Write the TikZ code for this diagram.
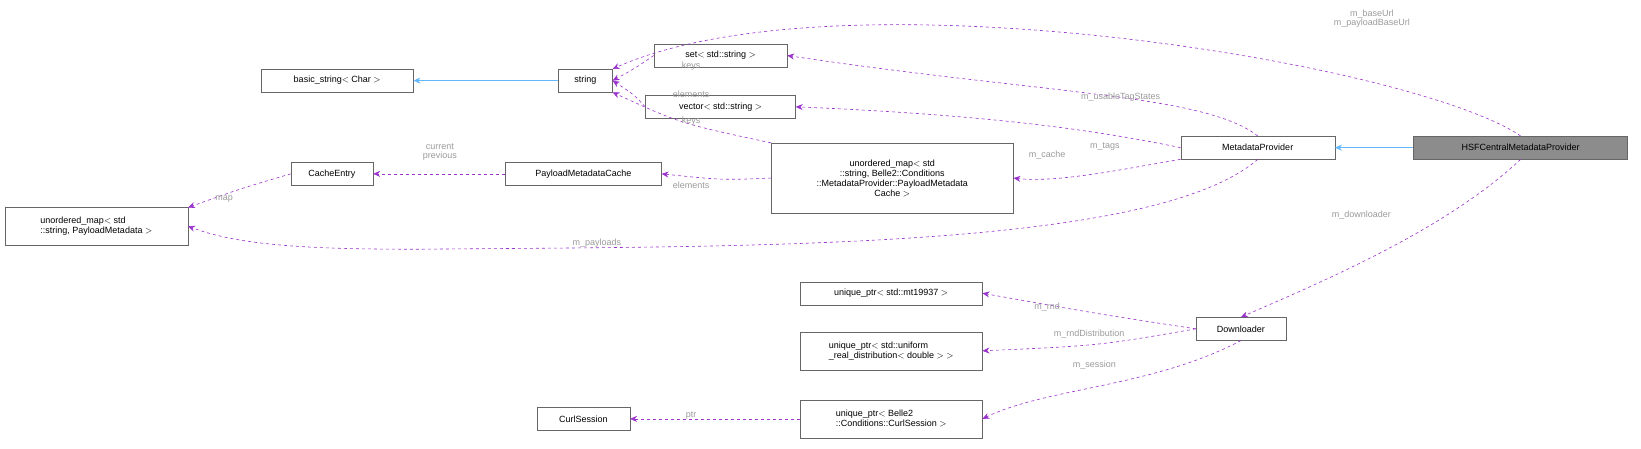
\documentclass[tikz,border=0pt]{standalone}
\usepackage{fontspec}
\setmainfont{Liberation Sans}
\usetikzlibrary{arrows.meta,positioning}
\definecolor{usecol}{HTML}{9A32CD}
\definecolor{inhcol}{HTML}{63B8FF}
\definecolor{lblcol}{HTML}{9A9A9A}
\begin{document}
\begin{tikzpicture}[x=1.047pt, y=-1.047pt, font=\fontsize{9}{10}\selectfont]

    \tikzstyle{cls} = [rectangle, draw=black!60, fill=white, inner sep=3pt, minimum height=23pt, align=center]
    \tikzstyle{use} = [usecol, dashed, semithick, -{Stealth[length=7pt, width=6pt]}]
    \tikzstyle{inh} = [inhcol, semithick, -{Stealth[length=7pt, width=6pt]}]
    \tikzstyle{lbl} = [lblcol, font=\fontsize{9}{9.5}\selectfont, align=center, inner sep=1pt]

    \useasboundingbox (0,0) rectangle (1567,428);

    \node (hsf)      [cls, fill=black!45, minimum width=214pt] at (1452,141) {HSFCentralMetadataProvider};
    \node (provider) [cls, minimum width=154pt] at (1201,141) {MetadataProvider};
    \node (string)   [cls, minimum width=54pt]  at (559,77)   {string};
    \node (basic)    [cls, minimum width=152pt] at (322,77)   {basic\_string$<$ Char $>$};
    \node (set)      [cls, minimum width=133pt] at (688,53)   {set$<$ std::string $>$};
    \node (vector)   [cls, minimum width=150pt] at (688,102)  {vector$<$ std::string $>$};
    \node (cachemap) [cls, minimum width=242pt, minimum height=70pt] at (852,170) {unordered\_map$<$ std\\::string, Belle2::Conditions\\::MetadataProvider::PayloadMetadata\\Cache $>$};
    \node (pmcache)  [cls, minimum width=156pt] at (557,166)  {PayloadMetadataCache};
    \node (entry)    [cls, minimum width=82pt]  at (317,166)  {CacheEntry};
    \node (paymap)   [cls, minimum width=183pt, minimum height=37pt, align=left] at (92,216) {unordered\_map$<$ std\\::string, PayloadMetadata $>$};
    \node (down)     [cls, minimum width=90pt]  at (1185,314) {Downloader};
    \node (rnd)      [cls, minimum width=182pt] at (851,280)  {unique\_ptr$<$ std::mt19937 $>$};
    \node (rnddist)  [cls, minimum width=182pt, minimum height=38pt, align=left] at (851,335) {unique\_ptr$<$ std::uniform\\\_real\_distribution$<$ double $>$ $>$};
    \node (sessptr)  [cls, minimum width=182pt, minimum height=38pt, align=left] at (851,400) {unique\_ptr$<$ Belle2\\::Conditions::CurlSession $>$};
    \node (curl)     [cls, minimum width=93pt]  at (557,400)  {CurlSession};

    \path[inh] (hsf) edge (provider);
    \path[inh] (string) edge (basic);

    \draw[use] (hsf.north) .. controls (1350,60) and (800,-30) .. (string.north east);
    \node[lbl] at (1310,18) {m\_baseUrl\\m\_payloadBaseUrl};
    \draw[use] (hsf.south) .. controls (1380,220) and (1260,270) .. (down.north);
    \node[lbl] at (1300,205) {m\_downloader};

    \draw[use] (provider.north) .. controls (1150,90) and (1000,90) .. (set.east);
    \node[lbl] at (1070,93) {m\_usableTagStates};
    \draw[use] (provider.west) .. controls (1050,125) and (950,110) .. (vector.east);
    \node[lbl] at (1055,140) {m\_tags};
    \draw[use] (provider.south west) .. controls (1080,160) and (1010,175) .. (cachemap.east);
    \node[lbl] at (1000,148) {m\_cache};
    \draw[use] (provider.south) .. controls (1100,240) and (700,235) .. (400,238) .. controls (300,238) and (230,235) .. (paymap.east);
    \node[lbl] at (570,232) {m\_payloads};

    \draw[use] (set.west) .. controls (605,66) .. (string.east);
    \node[lbl] at (660,63) {keys};
    \draw[use] (vector.west) .. controls (605,90) .. (string.east);
    \node[lbl] at (660,90) {elements};
    \draw[use] (cachemap.north west) .. controls (650,118) .. (string.south east);
    \node[lbl] at (660,116) {keys};
    \draw[use] (cachemap.west) .. controls (690,172) .. (pmcache.east);
    \node[lbl] at (660,177) {elements};
    \draw[use] (pmcache) -- (entry);
    \node[lbl] at (420,145) {current\\previous};
    \draw[use] (entry.west) .. controls (230,180) .. (paymap.north east);
    \node[lbl] at (214,190) {map};

    \draw[use] (down.west) .. controls (1050,300) .. (rnd.east);
    \node[lbl] at (1000,293) {m\_rnd};
    \draw[use] (down.west) .. controls (1050,330) .. (rnddist.east);
    \node[lbl] at (1040,319) {m\_rndDistribution};
    \draw[use] (down.south) .. controls (1100,370) and (1000,370) .. (sessptr.east);
    \node[lbl] at (1045,349) {m\_session};
    \draw[use] (sessptr) -- (curl);
    \node[lbl] at (660,397) {ptr};
\end{tikzpicture}
\end{document}
